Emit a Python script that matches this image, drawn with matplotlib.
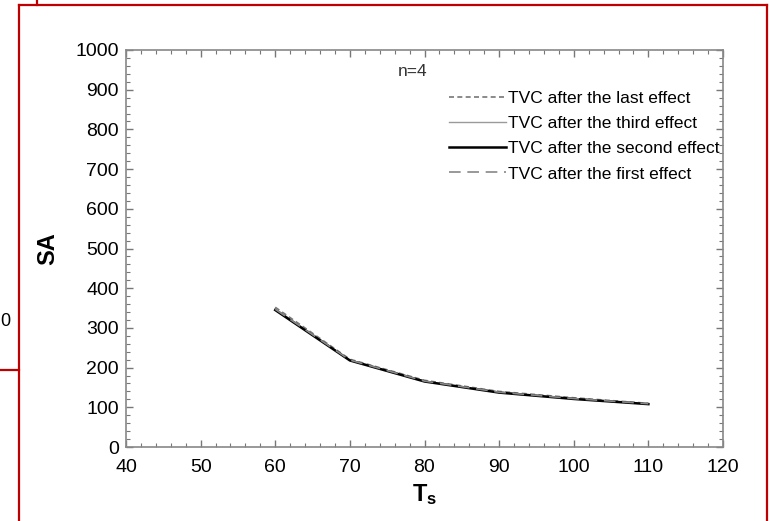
import matplotlib
matplotlib.use("Agg")
import matplotlib.pyplot as plt
from matplotlib.lines import Line2D
from matplotlib.ticker import MultipleLocator

plt.rcParams['font.family'] = ['Liberation Sans', 'DejaVu Sans']
plt.rcParams['mathtext.fontset'] = 'custom'
plt.rcParams['mathtext.bf'] = 'Liberation Sans:bold'

ts = [60, 70, 80, 90, 100, 110]
sa_last = [352, 221, 168, 140, 124, 110]
sa_third = [348, 219, 166, 138, 122, 109]
sa_second = [345, 218, 165, 137, 121, 108]
sa_first = [347, 219, 166, 138, 122, 109]

W, H = 770, 521
fig = plt.figure(figsize=(W / 100, H / 100), dpi=100)
ax = fig.add_axes([126 / W, 1 - 447 / H, (723 - 126) / W, (447 - 50) / H])

ax.plot(ts, sa_last, color='#777777', lw=1.2, ls=(0, (3, 2)), label='TVC after the last effect')
ax.plot(ts, sa_third, color='#9a9a9a', lw=1.0, label='TVC after the third effect')
ax.plot(ts, sa_second, color='black', lw=1.8, label='TVC after the second effect')
ax.plot(ts, sa_first, color='#888888', lw=1.2, ls=(0, (7, 4)), label='TVC after the first effect')

ax.set_xlim(40, 120)
ax.set_ylim(0, 1000)
ax.xaxis.set_major_locator(MultipleLocator(10))
ax.xaxis.set_minor_locator(MultipleLocator(2))
ax.yaxis.set_major_locator(MultipleLocator(100))
ax.yaxis.set_minor_locator(MultipleLocator(20))
ax.tick_params(which='both', direction='in', top=True, right=True, colors='#777777',
               labelcolor='black', labelsize=14)
ax.tick_params(which='major', length=5, width=1)
ax.tick_params(which='minor', length=3, width=0.8)
ax.tick_params(axis='x', which='major', pad=9)
ax.tick_params(axis='y', which='major', pad=5)
for s in ax.spines.values():
    s.set_color('#888888')
    s.set_linewidth(1.2)

ax.set_xlabel(r'$\mathbf{T_s}$', fontsize=17, labelpad=4)
ax.set_ylabel('SA', fontsize=17, fontweight='bold', labelpad=12)
ax.text(0.455, 0.935, 'n=4', transform=ax.transAxes, fontsize=12.5, color='#333333')

leg = ax.legend(loc='upper right', bbox_to_anchor=(1.005, 0.915), frameon=False, fontsize=12.5,
                handlelength=3.3, handletextpad=0.1, labelspacing=0.58, borderaxespad=0)

# red frame lines from the screenshot
red = '#c00000'
def fl(xs, ys):
    fig.add_artist(Line2D([x / W for x in xs], [1 - y / H for y in ys], color=red, lw=1.6))
fl([19, 19], [5, H])
fl([19, 767], [5, 5])
fl([767, 767], [5, H])
fl([37, 37], [0, 5])
fl([0, 19], [370, 370])
fig.text(0 / W, 1 - 322 / H, '0', fontsize=13, va='center', ha='left')

fig.savefig('out.png', dpi=100)
